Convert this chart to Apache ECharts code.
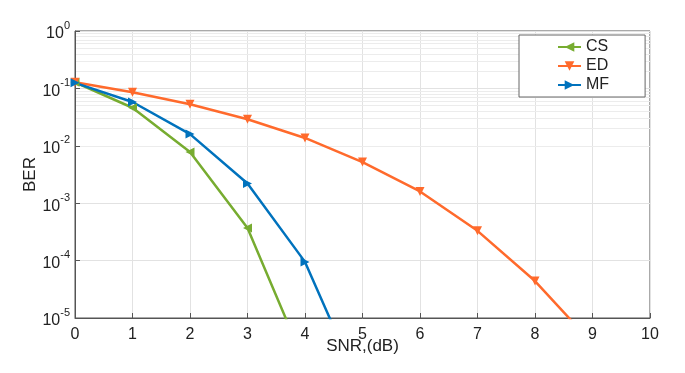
<!DOCTYPE html>
<html>
<head>
<meta charset="utf-8">
<script src="https://cdn.jsdelivr.net/npm/echarts@6/dist/echarts.min.js"></script>
<style>
  html, body { margin: 0; padding: 0; background: #fff; }
  #myChart { width: 685px; height: 373px; }
</style>
</head>
<body>
<div id="myChart"></div>
<script>
// SNR values on the x axis
const snr = [0, 1, 2, 3, 4, 5, 6, 7, 8, 9, 10]
// BER curves
const csBer = [0.128, 0.046, 0.0078, 0.00037, 0.0000016]
const edBer = [0.128, 0.086, 0.053, 0.029, 0.0137, 0.0052, 0.0016, 0.00033, 0.000044, 0.0000036]
const mfBer = [0.125, 0.058, 0.016, 0.0022, 0.000095, 0.0000005]
// minor grid lines of the log axis (2..9 x 10^k)
const minorGrid = []
for (let k = -5; k < 0; k++) {
  for (let m = 2; m <= 9; m++) minorGrid.push(m * Math.pow(10, k))
}

const font = 'Liberation Sans, Arial, sans-serif'

function pairs(vals) {
  return vals.map((v, i) => [snr[i], v])
}

function mkSeries(name, vals, color, rotate) {
  return {
    name: name,
    type: 'line',
    z: 5,
    data: pairs(vals),
    symbol: 'triangle',
    symbolSize: 9,
    symbolRotate: rotate,
    clip: true,
    lineStyle: { color: color, width: 2.5 },
    itemStyle: { color: color }
  }
}

const myChart = echarts.init(document.getElementById('myChart'))
const series = [
  mkSeries('CS', csBer, '#77AC30', 90),
  mkSeries('ED', edBer, '#FF6A2C', 180),
  mkSeries('MF', mfBer, '#0072BD', -90)
]
// light minor grid drawn behind the curves
series.unshift({
  type: 'line',
  data: [],
  silent: true,
  z: 0,
  markLine: {
    silent: true,
    z: 0,
    symbol: 'none',
    label: { show: false },
    lineStyle: { color: '#ececec', width: 1, type: 'solid' },
    data: minorGrid.map(v => ({ yAxis: v }))
  }
})

myChart.setOption({
  animation: false,
  backgroundColor: '#fff',
  grid: {
    left: 75, right: 35, top: 31, bottom: 55,
    show: true, borderColor: '#555', borderWidth: 1
  },
  legend: {
    data: ['CS', 'ED', 'MF'],
    orient: 'vertical',
    left: 519, top: 35,
    z: 10,
    padding: [4, 36, 4, 38],
    itemGap: 3,
    itemWidth: 23,
    itemHeight: 12,
    borderColor: '#666',
    borderWidth: 1,
    backgroundColor: '#fff',
    textStyle: { fontFamily: font, fontSize: 16, color: '#222' }
  },
  xAxis: {
    type: 'value',
    min: 0, max: 10, interval: 1,
    name: 'SNR,(dB)',
    nameLocation: 'middle',
    nameMoveOverlap: false,
    nameGap: 20,
    nameTextStyle: { fontFamily: font, fontSize: 17, color: '#222' },
    axisLine: { lineStyle: { color: '#555' } },
    axisTick: { inside: true, length: 5, lineStyle: { color: '#555' } },
    axisLabel: { fontFamily: font, fontSize: 16, color: '#222', margin: 9 },
    splitLine: { show: true, lineStyle: { color: '#e2e2e2' } }
  },
  yAxis: {
    type: 'log',
    logBase: 10,
    min: 1e-5, max: 1,
    name: 'BER',
    nameLocation: 'middle',
    nameMoveOverlap: false,
    nameGap: 36,
    nameTextStyle: { fontFamily: font, fontSize: 17, color: '#222' },
    axisLine: { lineStyle: { color: '#555' } },
    axisTick: { inside: true, length: 5, lineStyle: { color: '#555' } },
    axisLabel: {
      margin: 5,
      formatter: function (v) {
        const e = Math.round(Math.log10(v))
        return '{b|10}{s|' + e + '}'
      },
      rich: {
        b: { fontFamily: font, fontSize: 16, color: '#222', padding: [6, 0, 0, 0] },
        s: { fontFamily: font, fontSize: 11, color: '#222', verticalAlign: 'top', padding: [0, 0, 10, 0] }
      }
    },
    splitLine: { show: true, lineStyle: { color: '#e2e2e2' } }
  },
  series: series
})
</script>
</body>
</html>
